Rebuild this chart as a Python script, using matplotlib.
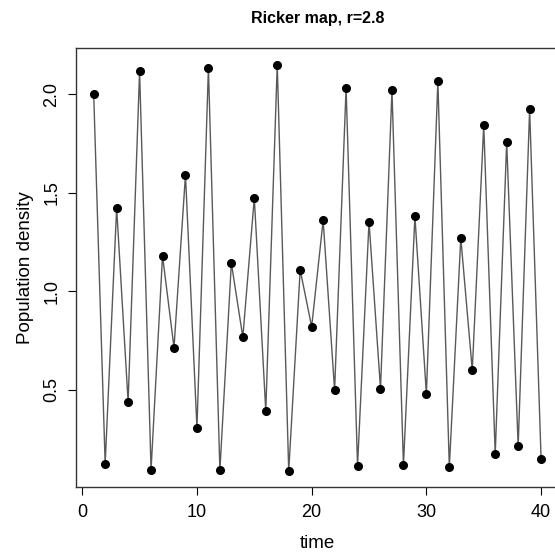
import numpy as np
import matplotlib
matplotlib.use("Agg")
import matplotlib.pyplot as plt

# Ricker map trajectory
time = list(range(1, 41))
density = [2.000, 0.122, 1.423, 0.436, 2.116, 0.093, 1.180, 0.713, 1.591, 0.304,
           2.134, 0.089, 1.143, 0.766, 1.474, 0.391, 2.151, 0.086, 1.108, 0.819,
           1.359, 0.497, 2.032, 0.113, 1.353, 0.504, 2.020, 0.116, 1.380, 0.477,
           2.065, 0.105, 1.270, 0.598, 1.843, 0.174, 1.756, 0.212, 1.923, 0.145]
xticks = [0, 10, 20, 30, 40]
yticks = [0.5, 1.0, 1.5, 2.0]

plt.rcParams["font.family"] = ["Liberation Sans", "DejaVu Sans"]
W = 555
fig = plt.figure(figsize=(W / 100, W / 100), dpi=100)

# R style plot region (right edge runs off the canvas like in the original)
left, right, top, bottom = 75.8, 559.0, 48.3, 487.3
ax = fig.add_axes([left / W, (W - bottom) / W, (right - left) / W, (bottom - top) / W])

ax.plot(time, density, color="0.35", lw=1.0, zorder=2)
ax.plot(time, density, "o", color="black", markersize=5.5, zorder=3)

# 4% padding like R's default axis range
xr = max(time) - min(time)
ax.set_xlim(min(time) - 0.04 * xr, max(time) + 0.04 * xr)
yr = max(density) - min(density)
ax.set_ylim(min(density) - 0.04 * yr, max(density) + 0.04 * yr)

ax.set_xticks(xticks)
ax.set_yticks(yticks)
ax.set_yticklabels([f"{v:.1f}" for v in yticks], rotation=90, va="center")
ax.tick_params(direction="out", length=6, width=0.8, labelsize=13, colors="black")
ax.tick_params(axis="x", pad=6)
ax.tick_params(axis="y", pad=5)

for s in ax.spines.values():
    s.set_color("#333333")
    s.set_linewidth(1.0)

ax.set_xlabel("time", fontsize=13.5)
ax.set_ylabel("Population density", fontsize=13.5)
ax.xaxis.set_label_coords(0.5, -(535 - bottom) / (bottom - top))
ax.yaxis.set_label_coords(-(left - 34) / (right - left), 0.5)

fig.text((left + right) / 2 / W, 1 - 19 / W, "Ricker map, r=2.8", fontsize=11.5,
         fontweight="bold", ha="center", va="center")

fig.savefig("out.png", dpi=100)
